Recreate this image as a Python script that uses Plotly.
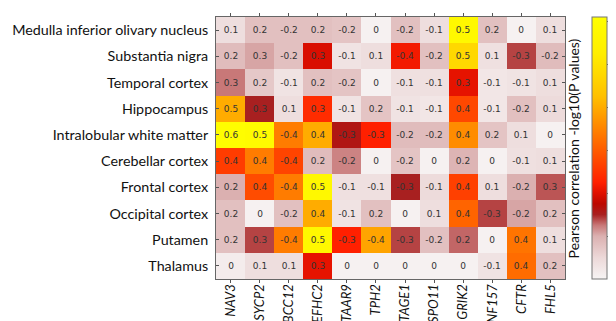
import plotly.graph_objects as go

regions = ["Medulla inferior olivary nucleus", "Substantia nigra", "Temporal cortex",
           "Hippocampus", "Intralobular white matter", "Cerebellar cortex",
           "Frontal cortex", "Occipital cortex", "Putamen", "Thalamus"]
genes = ["NAV3", "SYCP2", "ABCC12", "EFHC2", "TAAR9", "TPH2", "CTAGE1", "SPO11",
         "GRIK2", "ZNF157", "CFTR", "FHL5"]

# Pearson correlation (annotation)
corr = [
    [0.1, 0.2, -0.2, 0.2, -0.2, 0, -0.2, -0.1, 0.5, 0.2, 0, 0.1],
    [0.2, 0.3, -0.2, 0.3, -0.1, 0.1, -0.4, -0.2, 0.5, 0.1, -0.3, -0.2],
    [0.3, 0.2, -0.1, 0.2, -0.2, 0, -0.1, -0.1, 0.3, -0.1, -0.1, 0.1],
    [0.5, 0.3, 0.1, 0.3, -0.1, 0.2, -0.1, -0.1, 0.4, -0.1, -0.2, 0.1],
    [0.6, 0.5, -0.4, 0.4, -0.3, -0.3, -0.2, -0.2, 0.4, 0.2, 0.1, 0],
    [0.4, 0.4, -0.4, 0.2, -0.2, 0, -0.2, 0, 0.2, 0, -0.1, 0.1],
    [0.2, 0.4, -0.4, 0.5, -0.1, -0.1, -0.3, -0.1, 0.4, 0.1, -0.2, 0.3],
    [0.2, 0, -0.2, 0.4, -0.1, 0.2, 0, 0.1, 0.4, -0.3, -0.2, 0.2],
    [0.2, 0.3, -0.4, 0.5, -0.3, -0.4, -0.3, -0.2, 0.2, 0, 0.4, 0.1],
    [0, 0.1, 0.1, 0.3, 0, 0, 0, 0, 0, -0.1, 0.4, 0.2],
]

# -log10(P values) (colour)
neglogp = [
    [0.8, 1.6, 1.6, 1.6, 1.5, 0.1, 1.6, 0.8, 11.5, 1.6, 0.1, 0.8],
    [1.7, 2.1, 1.6, 3.9, 0.6, 0.8, 4.3, 1.6, 9.5, 0.7, 2.8, 1.7],
    [2.5, 1.4, 0.6, 1.6, 1.5, 0.1, 0.7, 0.7, 4.1, 0.5, 0.6, 0.8],
    [8.0, 3.0, 0.8, 4.8, 0.6, 1.5, 0.6, 0.5, 5.5, 0.5, 1.6, 0.9],
    [12.0, 11.8, 6.8, 8.0, 3.2, 4.5, 1.7, 1.7, 7.2, 1.5, 0.8, 0.1],
    [5.2, 6.8, 5.4, 1.7, 2.4, 0.1, 1.5, 0.1, 1.9, 0.1, 0.7, 0.8],
    [2.0, 5.6, 6.8, 11.5, 0.7, 0.7, 3.0, 0.9, 5.3, 0.8, 2.0, 2.7],
    [1.6, 0.1, 1.6, 8.0, 0.6, 1.6, 0.1, 0.8, 6.2, 2.8, 2.1, 1.6],
    [1.6, 2.8, 6.8, 11.5, 4.5, 7.8, 2.8, 1.6, 2.6, 0.1, 6.6, 0.8],
    [0.3, 0.8, 0.8, 4.1, 0.1, 0.1, 0.1, 0.1, 0.1, 0.6, 6.4, 1.6],
]

cb_ticks = [2, 4, 6, 8, 10, 12]
zmax = 12.2

stops = [(0, "#f7f4f4"), (1.0, "#ecd8d8"), (2.0, "#dbb0b0"), (2.5, "#c87878"),
         (3.0, "#a82020"), (3.5, "#bc0800"), (4.0, "#e01000"), (4.5, "#ff2000"),
         (5.5, "#ff4800"), (6.5, "#ff7000"), (7.5, "#ff9800"), (8.5, "#ffc000"),
         (9.5, "#ffd800"), (10.5, "#ffee00"), (zmax, "#ffff00")]
colorscale = [[v / zmax, c] for v, c in stops]

text = [[("%g" % v) for v in row] for row in corr]

fig = go.Figure(go.Heatmap(
    z=neglogp, x=genes, y=regions, text=text, texttemplate="%{text}",
    textfont=dict(size=9, color="#333333", family="DejaVu Sans"),
    colorscale=colorscale, zmin=0, zmax=zmax, xgap=0, ygap=0,
    colorbar=dict(
        x=1.078, xanchor="left", xref="paper", xpad=0, ypad=0,
        y=0.5, yanchor="middle",
        thickness=15, len=1.0, lenmode="fraction",
        outlinecolor="#777777", outlinewidth=1,
        tickvals=cb_ticks, ticks="outside", ticklen=2, tickcolor="#666",
        tickfont=dict(size=7, color="#555555", family="DejaVu Sans"),
    ),
))

fig.add_annotation(
    text="Pearson correlation -log10(P values)", textangle=-90,
    xref="paper", yref="paper", x=1.024, y=0.5, xanchor="center", yanchor="middle",
    showarrow=False, font=dict(size=14, color="#111111", family="Lato"),
)

fig.update_layout(
    width=616, height=321,
    margin=dict(l=208, r=59, t=9, b=50, autoexpand=False),
    paper_bgcolor="white", plot_bgcolor="white",
    font=dict(family="Lato", color="#111111"),
)
fig.update_xaxes(
    tickangle=-90, tickfont=dict(size=13, family="Lato", style="italic", color="#111111"),
    ticks="outside", ticklen=3, tickcolor="#555", showline=True, linecolor="#666",
    linewidth=1, mirror="ticks", automargin=False, showgrid=False,
    ticklabelstandoff=-4,
)
fig.update_yaxes(
    autorange="reversed", tickfont=dict(size=14.3, family="Lato", color="#111111"),
    ticks="inside", ticklen=3, tickcolor="#555", showline=True, linecolor="#666",
    linewidth=1, mirror="ticks", automargin=False, showgrid=False,
    ticklabelstandoff=4,
)

fig.write_html("out.html")
